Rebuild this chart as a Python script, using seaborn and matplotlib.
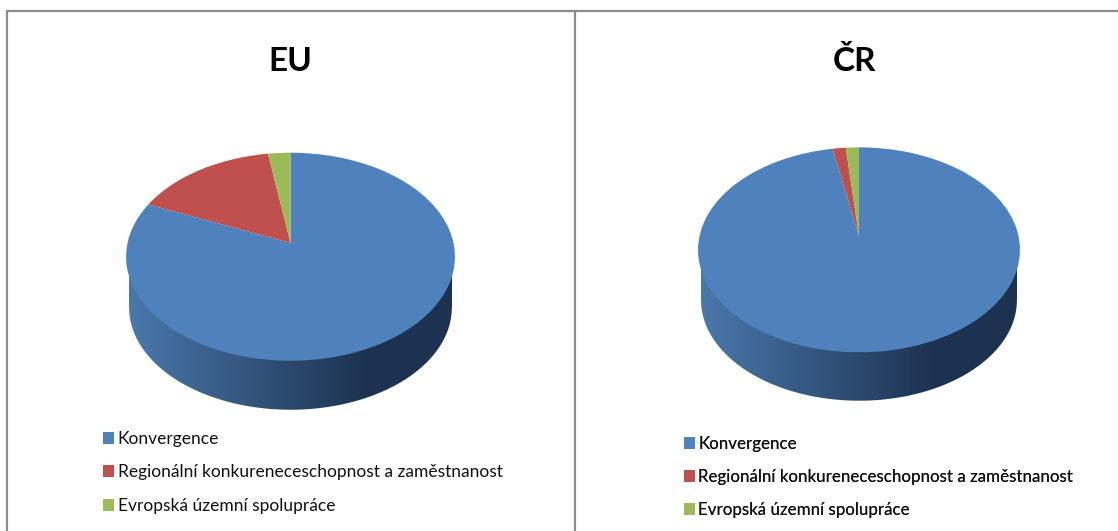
#!/usr/bin/env python3
import numpy as np
import seaborn as sns
import matplotlib
matplotlib.use('Agg')
import matplotlib.pyplot as plt
from matplotlib.patches import Polygon
from matplotlib.transforms import Transform

# Shares of the funds in percent
categories = ['Konvergence', 'Regionální konkureneceschopnost a zaměstnanost', 'Evropská územní spolupráce']
eu_shares = [81.5, 16.0, 2.5]
cr_shares = [97.0, 1.5, 1.5]

colors = ['#4F81BD', '#C0504D', '#9BBB59']
wall_colors = ['#4A77AB', '#1C3250']

sns.set_theme(style='white')
plt.rcParams['font.family'] = ['Lato', 'DejaVu Sans']


# Tilted disk: maps the unit circle of the pie to pixels, the far side comes out smaller
class Tilt(Transform):
    input_dims = 2
    output_dims = 2
    is_affine = False
    has_inverse = False

    def __init__(self, cx, cy, a, b, k):
        super().__init__()
        self.cx, self.cy, self.a, self.b, self.k = cx, cy, a, b, k

    def transform_non_affine(self, values):
        values = np.asarray(values, dtype=float)
        d = 1 + self.k * values[:, 1]
        return np.column_stack([self.cx + self.a * values[:, 0] / d,
                                self.cy - self.b * values[:, 1] / d])


def draw_pie(ax, shares, title, title_x, title_y, cx, cy, a, b, k, depth, legend_xy, legend_size):
    tilt = Tilt(cx, cy, a, b, k)

    # side wall: the same disk a bit smaller and lower, filled with a gradient
    t = np.linspace(0, 2 * np.pi, 361)
    rim = tilt.transform_non_affine(np.column_stack([np.cos(t), np.sin(t)]))
    mid_y = (rim[:, 1].min() + rim[:, 1].max()) / 2
    low = np.column_stack([cx + (rim[:, 0] - cx) * 0.981,
                           mid_y + (rim[:, 1] - mid_y) * 0.981])
    low[:, 1] += rim[:, 1].max() + depth - low[:, 1].max()
    left, right = low[:, 0].argmin(), low[:, 0].argmax()
    lower = low[low[:, 1] >= low[left, 1]]
    lower = lower[np.argsort(lower[:, 0])]
    outline = np.vstack([[rim[rim[:, 0].argmin()]], lower, [rim[rim[:, 0].argmax()]], [[cx, mid_y]]])

    cmap = sns.blend_palette(wall_colors, as_cmap=True)
    ramp = np.clip(np.linspace(0, 1, 256) / 0.74, 0, 1)[None, :]
    im = ax.imshow(ramp, cmap=cmap, aspect='auto', zorder=1,
                   extent=(low[left, 0], low[right, 0], low[:, 1].max(), rim[:, 1].min()))
    im.set_clip_path(Polygon(outline, transform=ax.transData))

    wedges, _ = ax.pie(shares, colors=colors, startangle=90, counterclock=False,
                       wedgeprops={'linewidth': 0})
    for w in wedges:
        w.set_transform(tilt + ax.transData)
        w.set_zorder(2)

    ax.text(title_x, title_y, title, fontsize=24, fontweight='bold', color='black',
            ha='center', va='baseline')

    leg = ax.legend(wedges, categories, loc='upper left', bbox_to_anchor=legend_xy,
                    bbox_transform=ax.transData, frameon=False, fontsize=legend_size,
                    handlelength=0.65, handleheight=0.7, handletextpad=0.2,
                    labelspacing=1.0, borderpad=0, borderaxespad=0, labelcolor='#111111')
    ax.add_artist(leg)


fig = plt.figure(figsize=(11.18, 5.31), dpi=100)
ax = fig.add_axes([0, 0, 1, 1])

draw_pie(ax, eu_shares, 'EU', 290, 71, 290.5, 243, 163, 102.2, 0.132, 49, (103, 431), 12.5)
draw_pie(ax, cr_shares, 'ČR', 854, 71, 859, 236, 159.5, 100.6, 0.135, 48.4, (684, 436), 12.2)

# pie() resets the axes, so pixel limits go last
ax.set_aspect('auto')
ax.set_xlim(0, 1118)
ax.set_ylim(531, 0)
ax.set_frame_on(False)

# panel borders
line = dict(color='#8C8C8C', lw=1.6, solid_capstyle='butt', zorder=3)
ax.plot([7, 1118], [10.5, 10.5], **line)
ax.plot([7, 7], [10, 531], **line)
ax.plot([575, 575], [10, 531], **line)

plt.savefig('out.png', dpi=100)
